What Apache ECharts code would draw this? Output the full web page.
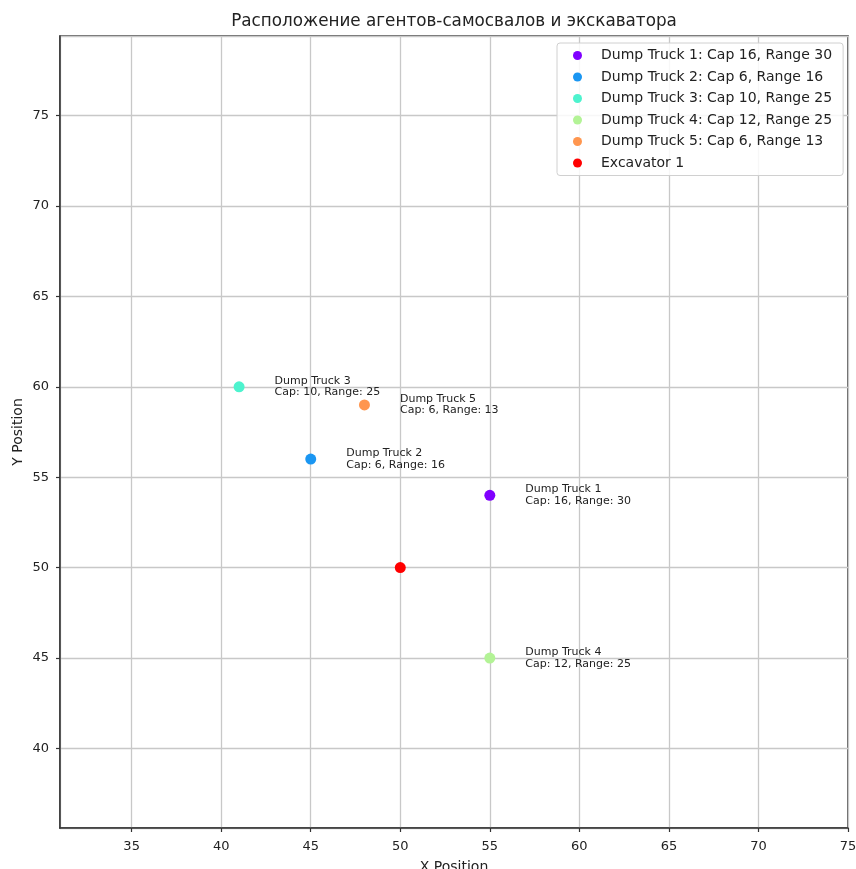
<!DOCTYPE html>
<html>
<head>
<meta charset="utf-8">
<script src="https://cdn.jsdelivr.net/npm/echarts@6/dist/echarts.min.js"></script>
<style>
html,body{margin:0;padding:0;background:#fff;overflow:hidden;}
#chart{width:856px;height:869px;}
</style>
</head>
<body>
<div id="chart"></div>
<script>
// ---- data ----
const truckNames = ['Dump Truck 1', 'Dump Truck 2', 'Dump Truck 3', 'Dump Truck 4', 'Dump Truck 5'];
const truckX = [55, 45, 41, 55, 48];
const truckY = [54, 56, 60, 45, 59];
const truckCap = [16, 6, 10, 12, 6];
const truckRange = [30, 16, 25, 25, 13];
const excavatorNames = ['Excavator 1'];
const excavatorX = [50];
const excavatorY = [50];
const xLimits = [31, 75];
const yLimits = [35.6, 79.4];
const titleText = 'Расположение агентов-самосвалов и экскаватора';
const xName = 'X Position';
const yName = 'Y Position';

// ---- style ----
const truckColors = ['#8000ff', '#1a96f2', '#4df3ce', '#b3f396', '#ff964f'];
const excavatorColor = '#ff0000';
const FONT = 'DejaVu Sans';

const series = [];
truckNames.forEach((n, i) => {
  series.push({
    type: 'scatter',
    name: n + ': Cap ' + truckCap[i] + ', Range ' + truckRange[i],
    data: [[truckX[i], truckY[i]]],
    symbolSize: 11,
    itemStyle: { color: truckColors[i], opacity: 1 },
    label: {
      show: true,
      position: 'right',
      distance: 30,
      formatter: n + '\nCap: ' + truckCap[i] + ', Range: ' + truckRange[i],
      fontFamily: FONT,
      fontSize: 11,
      lineHeight: 11.5,
      color: '#222'
    },
    emphasis: { disabled: true }
  });
});
excavatorNames.forEach((n, i) => {
  series.push({
    type: 'scatter',
    name: n,
    data: [[excavatorX[i], excavatorY[i]]],
    symbolSize: 11,
    itemStyle: { color: excavatorColor, opacity: 1 },
    emphasis: { disabled: true }
  });
});

const axisCommon = {
  type: 'value',
  splitNumber: 9,
  axisLine: { show: true, onZero: false, lineStyle: { color: '#333', width: 1.5 } },
  axisTick: { show: true, length: 4, inside: false, lineStyle: { color: '#333', width: 1.2 } },
  splitLine: { show: true, lineStyle: { color: '#c8c8c8', width: 1.3 } },
  nameLocation: 'middle',
  nameMoveOverlap: false,
  nameTextStyle: { fontFamily: FONT, fontSize: 14, color: '#222' }
};

const chart = echarts.init(document.getElementById('chart'), null, { renderer: 'canvas' });
chart.setOption({
  animation: false,
  backgroundColor: '#fff',
  title: {
    text: titleText,
    left: 449,
    textAlign: 'center',
    top: 8,
    textStyle: { fontFamily: FONT, fontSize: 16.8, fontWeight: 'normal', color: '#222' }
  },
  legend: {
    orient: 'vertical',
    left: 557,
    top: 43,
    padding: [5, 11, 5, 16],
    itemWidth: 37,
    itemHeight: 9,
    itemGap: 6.5,
    icon: 'circle',
    backgroundColor: 'rgba(255,255,255,0.85)',
    borderColor: '#d0d0d0',
    borderWidth: 1,
    borderRadius: 3,
    selectedMode: false,
    textStyle: { fontFamily: FONT, fontSize: 14, lineHeight: 15, color: '#222' },
    data: series.map(s => s.name)
  },
  grid: {
    left: 60, right: 8, top: 36, bottom: 41,
    outerBoundsMode: 'none',
    containLabel: false,
    show: true, borderColor: '#333', borderWidth: 1.5
  },
  xAxis: Object.assign({}, axisCommon, {
    min: xLimits[0], max: xLimits[1],
    name: xName, nameGap: 32,
    axisLabel: { fontFamily: FONT, fontSize: 13, color: '#222', margin: 12, showMinLabel: false }
  }),
  yAxis: Object.assign({}, axisCommon, {
    min: yLimits[0], max: yLimits[1],
    name: yName, nameGap: 35,
    axisLabel: { fontFamily: FONT, fontSize: 13, color: '#222', margin: 11, showMinLabel: false, showMaxLabel: false }
  }),
  series: series
});
</script>
</body>
</html>
